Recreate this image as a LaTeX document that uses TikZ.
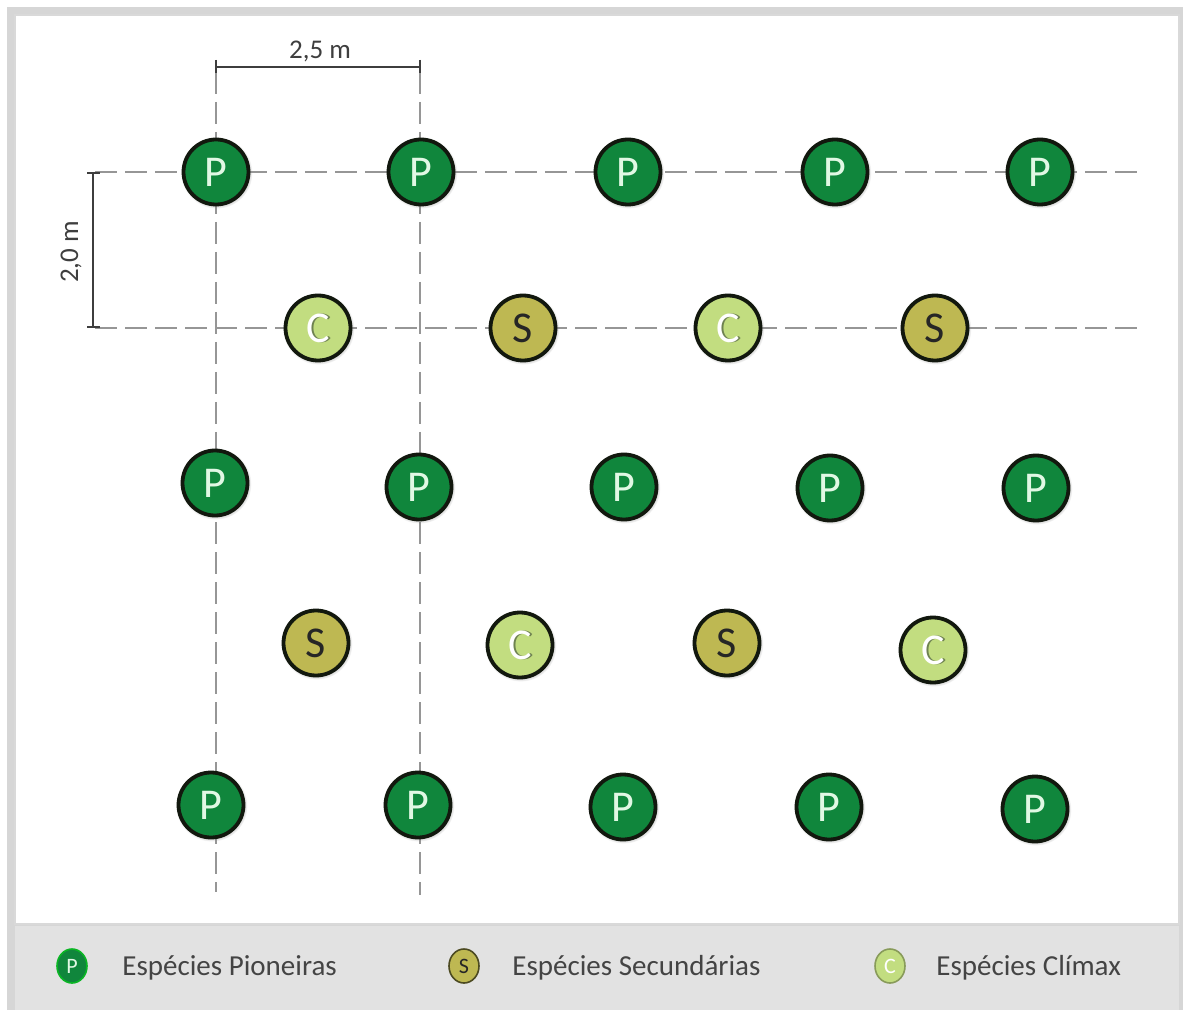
\documentclass[tikz,border=0pt]{standalone}
\usepackage{fontspec}
\setmainfont{Carlito}
\usetikzlibrary{shadows,shapes.geometric}
\definecolor{pgreen}{RGB}{16,134,60}
\definecolor{solive}{RGB}{190,184,82}
\definecolor{clight}{RGB}{194,221,128}
\definecolor{ringdark}{RGB}{18,24,14}
\definecolor{dashgray}{RGB}{150,150,150}
\definecolor{framegray}{RGB}{214,214,214}
\definecolor{legendgray}{RGB}{226,226,226}
\definecolor{txtgray}{RGB}{68,68,68}
\definecolor{dimgray}{RGB}{62,62,62}
\definecolor{pletter}{RGB}{225,248,228}
\definecolor{cshade}{RGB}{110,130,80}
\newcommand{\cletter}{\rlap{\hspace{0.9pt}\textcolor{cshade}{C}}C}
\begin{document}
\begin{tikzpicture}[x=0.5pt,y=-0.5pt,
  plant/.style={circle, draw=ringdark, line width=1.9pt, minimum size=32.5pt, inner sep=0pt,
    font=\fontsize{22}{22}\selectfont,
    circular drop shadow={shadow xshift=0.3pt, shadow yshift=-0.4pt, shadow scale=1.1, opacity=0.5}},
  pion/.style={plant, fill=pgreen, text=pletter},
  secd/.style={plant, fill=solive, text=black!85},
  clim/.style={plant, fill=clight, text=white},
  gridline/.style={dashgray, line width=0.9pt, dash pattern=on 11pt off 4pt},
  dimline/.style={dimgray, line width=1.3pt},
  dimtext/.style={text=dimgray, font=\fontsize{13.5}{13.5}\selectfont, inner sep=0pt},
  legc/.style={ellipse, minimum width=15pt, minimum height=17pt, inner sep=0pt, line width=0.8pt, font=\fontsize{11}{11}\selectfont},
  legtext/.style={text=txtgray, font=\fontsize{14.5}{14.5}\selectfont, inner sep=0pt, anchor=west}
]
\useasboundingbox (0,0) rectangle (1183,1010);
% frame and legend band
\fill[framegray] (7,7) rectangle (1183,1010);
\fill[legendgray] (15,926) rectangle (1179,1010);
\draw[white!70!gray, line width=0.6pt, fill=white] (15,15) rectangle (1179,924);

% grid coordinates
\coordinate (h1a) at (95,172);  \coordinate (h1b) at (1143,172);
\coordinate (h2a) at (95,328);  \coordinate (h2b) at (1143,328);
\coordinate (v1a) at (216,72);  \coordinate (v1b) at (216,892);
\coordinate (v2a) at (420,72);  \coordinate (v2b) at (420,895);
\draw[gridline] (h1a) -- (h1b);
\draw[gridline] (h2a) -- (h2b);
\draw[gridline] (v1a) -- (v1b);
\draw[gridline] (v2a) -- (v2b);

% dimension lines
\coordinate (da) at (216,67); \coordinate (db) at (420,67);
\draw[dimline] (da) -- (db);
\draw[dimline] ([yshift=3.5pt]da) -- ([yshift=-3pt]da);
\draw[dimline] ([yshift=3.5pt]db) -- ([yshift=-3pt]db);
\node[dimtext] (d25) at (320,51) {2,5 m};
\coordinate (dc) at (93,173); \coordinate (dd) at (93,327);
\draw[dimline] (dc) -- (dd);
\draw[dimline] ([xshift=-3pt]dc) -- ([xshift=3.5pt]dc);
\draw[dimline] ([xshift=-3pt]dd) -- ([xshift=3.5pt]dd);
\node[dimtext, rotate=90] (d20) at (71,252) {2,0 m};

% row 1
\node[pion] (p11) at (216,172) {P};
\node[pion] (p12) at (421,172) {P};
\node[pion] (p13) at (628,172) {P};
\node[pion] (p14) at (835,172) {P};
\node[pion] (p15) at (1040,172) {P};
% row 2
\node[clim] (c21) at (318,328) {\cletter};
\node[secd] (s22) at (523,328) {S};
\node[clim] (c23) at (728,328) {\cletter};
\node[secd] (s24) at (935,328) {S};
% row 3
\node[pion] (p31) at (215,483) {P};
\node[pion] (p32) at (419,487) {P};
\node[pion] (p33) at (624,487) {P};
\node[pion] (p34) at (830,488) {P};
\node[pion] (p35) at (1036,488) {P};
% row 4
\node[secd] (s41) at (316,643) {S};
\node[clim] (c42) at (520,645) {\cletter};
\node[secd] (s43) at (727,643) {S};
\node[clim] (c44) at (933,650) {\cletter};
% row 5
\node[pion] (p51) at (211,805) {P};
\node[pion] (p52) at (418,805) {P};
\node[pion] (p53) at (623,807) {P};
\node[pion] (p54) at (829,807) {P};
\node[pion] (p55) at (1035,809) {P};

% legend
\node[legc, fill=pgreen, draw=green!40!pgreen, text=pletter] (lp) at (72,966) {P};
\node[legtext] (lpt) at (122,968) {Espécies Pioneiras};
\node[legc, fill=solive, draw=black!60!solive, text=black!85] (ls) at (464,966) {S};
\node[legtext] (lst) at (512,968) {Espécies Secundárias};
\node[legc, fill=clight, draw=black!30!clight, text=white] (lc) at (890,966) {C};
\node[legtext] (lct) at (936,968) {Espécies Clímax};
\end{tikzpicture}
\end{document}
